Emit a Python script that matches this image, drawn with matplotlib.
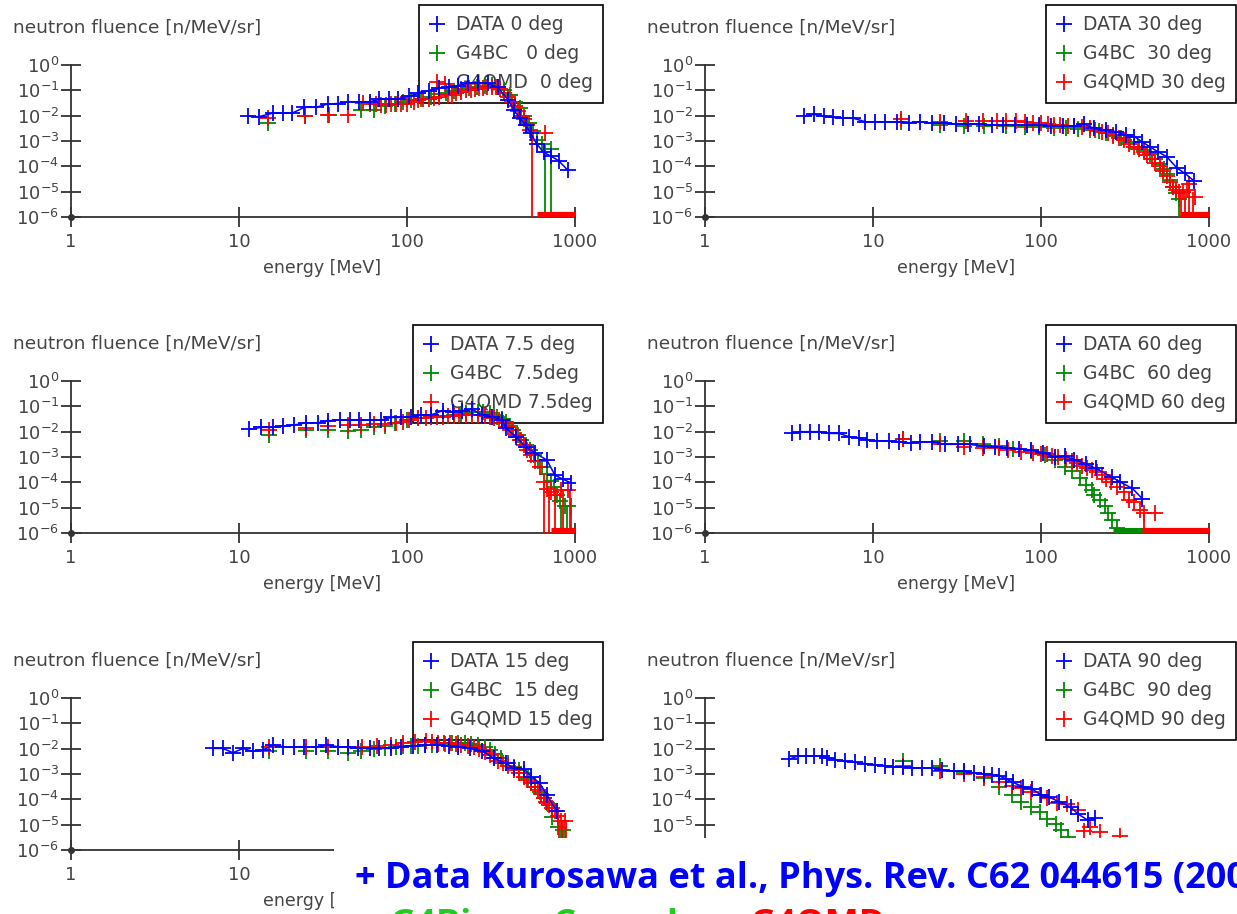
import numpy as np
import matplotlib
matplotlib.use("Agg")
import matplotlib.pyplot as plt
from matplotlib.lines import Line2D
from matplotlib.patches import Rectangle
from matplotlib.ticker import NullLocator

W, H = 1237, 914

# values: energy in MeV, fluence as log10 [n/MeV/sr]

# ---------- 0 deg ----------
e_data_0 = [11.3, 13.1, 15.9, 18.3, 20.7, 24.5, 28.7, 33.8, 38.7, 44.5, 52, 60, 68, 78, 89,
            103, 117, 135, 155, 178, 200, 230, 265, 303, 347, 400, 433, 470, 510, 545,
            590, 650, 720, 800, 905]
lg_data_0 = [-2.02, -2.04, -1.9, -1.9, -1.9, -1.67, -1.67, -1.54, -1.52, -1.45, -1.45, -1.45,
             -1.36, -1.33, -1.33, -1.23, -1.12, -1.01, -0.92, -0.86, -0.83, -0.72, -0.72,
             -0.72, -0.88, -1.38, -1.78, -2.1, -2.37, -2.7, -3.1, -3.45, -3.6, -3.78, -4.15]
e_bc_0 = [14.9, 24.8, 34.3, 53.6, 64, 74, 85, 95, 106, 121, 139, 155, 170, 190, 210, 235,
          260, 290, 320, 350, 380, 410, 440, 470, 500, 530, 560, 590, 640, 720]
lg_bc_0 = [-2.28, -2.02, -1.98, -1.78, -1.76, -1.62, -1.52, -1.45, -1.38, -1.33, -1.25,
           -1.15, -1.1, -1.02, -0.96, -0.9, -0.86, -0.82, -0.8, -0.85, -0.98, -1.2, -1.45,
           -1.7, -2.0, -2.3, -2.6, -2.96, -3.1, -3.3]
e_qmd_0 = [14.9, 24.8, 34, 44.5, 55, 60, 65, 70, 75, 80, 86, 92, 100, 110, 117, 125, 135,
           145, 155, 168, 175, 185, 195, 210, 225, 240, 255, 270, 285, 300, 320, 340, 360,
           380, 400, 420, 440, 460, 480, 500, 520, 540, 660]
lg_qmd_0 = [-2.1, -2.02, -1.98, -1.98, -1.49, -1.52, -1.52, -1.58, -1.58, -1.55, -1.55,
            -1.52, -1.52, -1.45, -1.38, -1.35, -1.33, -1.3, -1.25, -0.75, -1.2, -1.2, -1.12,
            -1.08, -1.0, -0.98, -0.94, -0.92, -0.9, -0.88, -0.88, -0.86, -0.95, -1.1, -1.25,
            -1.45, -1.62, -1.8, -2.0, -2.15, -2.35, -2.55, -2.7]
floor_bc_0, floor_qmd_0 = 680, 590
drop_e_bc_0, drop_lg_bc_0 = [660, 720], [-3.1, -3.3]
drop_e_qmd_0, drop_lg_qmd_0 = [555], [-2.7]

# ---------- 30 deg ----------
e_data_30 = [3.9, 4.45, 5.1, 5.8, 6.6, 7.6, 9.0, 10.3, 11.8, 13.9, 16.4, 19.0, 22.4, 26.4, 31,
             36.6, 43, 51, 59, 70, 82, 97, 114, 135, 158, 180, 207, 243, 278, 322, 360, 400,
             445, 495, 560, 645, 720, 815]
lg_data_30 = [-2.02, -1.95, -2.02, -2.07, -2.1, -2.1, -2.24, -2.24, -2.24, -2.24, -2.28,
              -2.24, -2.3, -2.3, -2.33, -2.33, -2.33, -2.37, -2.37, -2.37, -2.37, -2.37,
              -2.41, -2.41, -2.41, -2.33, -2.5, -2.56, -2.63, -2.77, -2.83, -3.03, -3.23,
              -3.42, -3.62, -4.07, -4.28, -4.58]
e_bc_30 = [14.6, 25, 35, 46, 62, 80, 97, 120, 140, 165, 195, 220, 243, 270, 300, 340, 380,
           410, 445, 480, 510, 540, 560, 585, 610, 635, 660]
lg_bc_30 = [-2.24, -2.37, -2.41, -2.41, -2.41, -2.43, -2.45, -2.48, -2.5, -2.53, -2.56,
            -2.62, -2.7, -2.8, -2.9, -3.05, -3.23, -3.35, -3.5, -3.7, -3.9, -4.1, -4.3,
            -4.55, -4.8, -5.05, -5.3]
e_qmd_30 = [14.6, 25, 36, 45, 55, 62, 71, 80, 90, 100, 110, 120, 130, 145, 158, 175, 195,
            210, 230, 250, 270, 290, 310, 335, 360, 385, 410, 430, 455, 480, 510, 535, 560,
            585, 610, 640, 665, 700, 740, 760, 820]
lg_qmd_30 = [-2.12, -2.24, -2.2, -2.2, -2.2, -2.2, -2.2, -2.25, -2.28, -2.3, -2.33, -2.35,
             -2.37, -2.39, -2.41, -2.45, -2.5, -2.56, -2.63, -2.7, -2.77, -2.87, -2.97, -3.1,
             -3.23, -3.33, -3.43, -3.55, -3.7, -3.85, -4.0, -4.2, -4.4, -4.6, -4.8, -4.95,
             -5.0, -5.0, -4.95, -4.7, -5.2]
floor_bc_30, floor_qmd_30 = 680, 680
drop_e_bc_30, drop_lg_bc_30 = [660], [-5.3]
drop_e_qmd_30, drop_lg_qmd_30 = [680, 720, 760, 800], [-5.0, -5.0, -4.7, -5.0]

# ---------- 7.5 deg ----------
e_data_75 = [11.5, 13.5, 15.9, 18.2, 21.2, 25, 29.5, 33.8, 39.7, 45.5, 52, 60, 70, 80, 92,
             106, 121, 139, 163, 187, 213, 245, 280, 320, 368, 388, 445, 510, 580, 680, 760,
             850, 945]
lg_data_75 = [-1.91, -1.83, -1.83, -1.78, -1.74, -1.65, -1.65, -1.57, -1.54, -1.54, -1.54,
              -1.54, -1.54, -1.44, -1.44, -1.41, -1.34, -1.34, -1.17, -1.21, -1.17, -1.12,
              -1.34, -1.41, -1.54, -1.86, -2.2, -2.6, -2.85, -3.12, -3.72, -3.88, -4.02]
e_bc_75 = [15, 25, 34, 44.5, 53, 64, 74, 85, 100, 117, 139, 163, 190, 210, 225, 245, 265,
           285, 310, 330, 345, 370, 390, 410, 430, 455, 480, 510, 540, 570, 600, 640, 680,
           715, 750, 780, 810, 870, 945]
lg_bc_75 = [-2.13, -1.94, -1.94, -1.97, -1.94, -1.8, -1.78, -1.67, -1.54, -1.47, -1.44,
            -1.38, -1.34, -1.3, -1.27, -1.24, -1.21, -1.22, -1.27, -1.33, -1.41, -1.5, -1.6,
            -1.78, -1.94, -2.14, -2.34, -2.54, -2.74, -2.94, -3.14, -3.4, -3.67, -3.95, -4.2,
            -4.5, -4.74, -4.93, -4.93]
e_qmd_75 = [15, 25, 34, 44.5, 53, 64, 74, 86, 95, 103, 117, 130, 139, 150, 163, 175, 190,
            205, 225, 245, 265, 290, 310, 330, 355, 375, 400, 420, 445, 470, 495, 520, 550,
            580, 615, 650, 680, 720, 760, 820, 910]
lg_qmd_75 = [-1.94, -1.87, -1.78, -1.74, -1.74, -1.7, -1.7, -1.65, -1.6, -1.54, -1.47,
             -1.45, -1.44, -1.42, -1.41, -1.4, -1.38, -1.36, -1.34, -1.34, -1.34, -1.37,
             -1.41, -1.46, -1.54, -1.65, -1.8, -1.95, -2.14, -2.34, -2.54, -2.74, -2.94,
             -3.15, -3.4, -4.0, -4.27, -4.4, -4.5, -4.3, -4.3]
floor_bc_75, floor_qmd_75 = 800, 720
drop_e_bc_75, drop_lg_bc_75 = [830, 900, 945], [-4.9, -4.9, -4.9]
drop_e_qmd_75, drop_lg_qmd_75 = [650, 700, 760, 850, 930], [-4.0, -4.3, -4.5, -4.3, -4.3]

# ---------- 60 deg ----------
e_data_60 = [3.3, 3.68, 4.2, 4.8, 5.5, 6.3, 7.2, 8.2, 9.2, 10.5, 12.4, 14.3, 16.8, 19.0,
             22.4, 27, 32, 37.6, 45.6, 53, 63, 74, 87, 103, 121, 139, 158, 186, 212, 265,
             295, 350, 400]
lg_data_60 = [-2.07, -2.0, -2.0, -2.0, -2.07, -2.07, -2.2, -2.24, -2.33, -2.36, -2.36, -2.4,
              -2.45, -2.4, -2.4, -2.5, -2.5, -2.5, -2.58, -2.6, -2.63, -2.67, -2.73, -2.83,
              -3.0, -2.97, -3.1, -3.28, -3.45, -3.8, -3.98, -4.24, -4.64]
e_bc_60 = [15, 25, 35, 45, 56, 68, 87, 106, 121, 139, 152, 170, 186, 200, 208, 225, 240,
           250, 265, 285]
lg_bc_60 = [-2.3, -2.36, -2.36, -2.5, -2.58, -2.67, -2.75, -2.93, -3.1, -3.38, -3.57, -3.84,
            -4.1, -4.3, -4.5, -4.7, -4.95, -5.2, -5.48, -5.8]
e_qmd_60 = [15, 25, 35, 45, 56, 64, 76, 90, 100, 108, 117, 127, 140, 152, 163, 175, 188,
            200, 215, 230, 245, 260, 285, 310, 335, 360, 390, 410, 480]
lg_qmd_60 = [-2.3, -2.5, -2.6, -2.64, -2.64, -2.73, -2.8, -2.84, -2.87, -2.9, -2.95, -3.0,
             -3.08, -3.16, -3.25, -3.34, -3.42, -3.5, -3.6, -3.7, -3.85, -4.0, -4.2, -4.4,
             -4.7, -4.77, -5.1, -5.2, -5.2]
floor_bc_60, floor_qmd_60 = 270, 400
drop_e_bc_60, drop_lg_bc_60 = [285], [-5.8]
drop_e_qmd_60, drop_lg_qmd_60 = [410], [-5.2]

# ---------- 15 deg ----------
e_data_15 = [7.0, 8.0, 9.2, 10.6, 12.1, 13.9, 15.9, 18.2, 21.2, 24.5, 28.7, 33, 38.7, 44.5,
             51, 60, 68, 80, 92, 108, 128, 150, 178, 200, 237, 280, 330, 388, 433, 495, 550,
             615, 680, 780]
lg_data_15 = [-1.99, -1.99, -2.16, -1.99, -2.11, -2.05, -1.86, -1.92, -1.95, -1.92, -1.95,
              -1.86, -1.92, -1.95, -1.99, -1.99, -1.99, -1.99, -1.92, -1.9, -1.86, -1.86,
              -1.9, -1.92, -1.99, -2.08, -2.38, -2.58, -2.77, -2.8, -3.1, -3.35, -3.82, -4.47]
e_bc_15 = [15, 25, 34, 44.5, 53, 64, 74, 86, 95, 105, 117, 128, 140, 153, 168, 185, 200,
           220, 240, 265, 290, 310, 335, 365, 400, 433, 465, 495, 525, 550, 580, 615, 650,
           680, 730, 790, 850]
lg_bc_15 = [-2.1, -2.08, -2.11, -2.16, -2.08, -2.03, -1.99, -1.92, -1.9, -1.9, -1.88, -1.86,
            -1.84, -1.82, -1.8, -1.79, -1.79, -1.79, -1.82, -1.86, -1.95, -2.05, -2.2, -2.38,
            -2.55, -2.71, -2.85, -2.97, -3.15, -3.3, -3.5, -3.7, -3.95, -4.16, -4.7, -5.1,
            -5.2]
e_qmd_15 = [15, 25, 34, 44.5, 54, 66, 80, 95, 112, 130, 140, 153, 165, 180, 195, 210, 230,
            250, 270, 290, 310, 330, 350, 375, 400, 433, 465, 495, 520, 550, 575, 600, 625,
            650, 675, 700, 730, 760, 790, 820, 870]
lg_qmd_15 = [-1.95, -1.95, -1.95, -1.92, -1.92, -1.9, -1.86, -1.79, -1.73, -1.69, -1.72,
             -1.77, -1.78, -1.79, -1.82, -1.86, -1.9, -1.92, -2.0, -2.12, -2.25, -2.38,
             -2.48, -2.58, -2.7, -2.84, -2.97, -3.1, -3.23, -3.37, -3.5, -3.63, -3.8, -3.96,
             -4.1, -4.22, -4.35, -4.48, -4.65, -4.87, -4.87]
floor_bc_15, floor_qmd_15 = 900, 900
drop_e_bc_15, drop_lg_bc_15 = [820, 870], [-5.2, -5.2]
drop_e_qmd_15, drop_lg_qmd_15 = [800, 840, 880], [-4.9, -4.9, -4.9]

# ---------- 90 deg ----------
e_data_90 = [3.16, 3.57, 3.98, 4.45, 4.97, 5.3, 5.9, 6.8, 7.8, 8.95, 10.3, 11.8, 13.2, 15.1,
             17.1, 19.6, 22.4, 25.7, 30.3, 34.8, 40, 45.7, 51, 56, 62, 68, 78, 89, 100, 111,
             128, 150, 166, 190, 211]
lg_data_90 = [-2.42, -2.29, -2.29, -2.29, -2.29, -2.37, -2.43, -2.5, -2.54, -2.59, -2.63,
              -2.67, -2.72, -2.72, -2.76, -2.76, -2.76, -2.83, -2.89, -2.89, -2.96, -2.99,
              -3.03, -3.06, -3.2, -3.33, -3.5, -3.6, -3.83, -3.9, -4.1, -4.3, -4.58, -4.82,
              -4.75]
e_bc_90 = [15, 25, 35, 45.7, 56, 67, 76, 87, 98, 109, 122, 131, 145]
lg_bc_90 = [-2.49, -2.7, -2.93, -3.16, -3.5, -3.83, -4.1, -4.3, -4.5, -4.76, -4.98, -5.2,
            -5.5]
e_qmd_90 = [15, 25, 35, 45.7, 56, 67, 76, 87, 98, 109, 125, 143, 166, 180, 195, 225, 295]
lg_qmd_90 = [-2.7, -2.9, -2.99, -3.1, -3.3, -3.46, -3.56, -3.7, -3.83, -3.96, -4.16, -4.2,
             -4.43, -5.24, -5.1, -5.3, -5.43]
floor_bc_90, floor_qmd_90 = None, None
drop_e_bc_90, drop_lg_bc_90 = [], []
drop_e_qmd_90, drop_lg_qmd_90 = [], []

labels_0 = ["DATA 0 deg", "G4BC   0 deg", "G4QMD  0 deg"]
labels_30 = ["DATA 30 deg", "G4BC  30 deg", "G4QMD 30 deg"]
labels_75 = ["DATA 7.5 deg", "G4BC  7.5deg", "G4QMD 7.5deg"]
labels_60 = ["DATA 60 deg", "G4BC  60 deg", "G4QMD 60 deg"]
labels_15 = ["DATA 15 deg", "G4BC  15 deg", "G4QMD 15 deg"]
labels_90 = ["DATA 90 deg", "G4BC  90 deg", "G4QMD 90 deg"]

x_ticks = [1, 10, 100, 1000]
x_ticklabels = ["1", "10", "100", "1000"]

BLUE, GREEN, RED = "#0000ff", "#008a00", "#ff0000"
AXC, TXC = "#333333", "#444444"

plt.rcParams["font.family"] = ["DejaVu Sans"]
fig = plt.figure(figsize=(W / 100, H / 100), dpi=100)

# pixel geometry: columns (axis left, legend right), rows (axis top, legend top)
cols = [(71, 603), (705, 1236)]
rows = [(65, 5), (381, 325), (698, 642)]

panels = [
    (0, 0, e_data_0, lg_data_0, e_bc_0, lg_bc_0, e_qmd_0, lg_qmd_0, labels_0,
     floor_bc_0, floor_qmd_0, drop_e_bc_0, drop_lg_bc_0, drop_e_qmd_0, drop_lg_qmd_0),
    (1, 0, e_data_30, lg_data_30, e_bc_30, lg_bc_30, e_qmd_30, lg_qmd_30, labels_30,
     floor_bc_30, floor_qmd_30, drop_e_bc_30, drop_lg_bc_30, drop_e_qmd_30, drop_lg_qmd_30),
    (0, 1, e_data_75, lg_data_75, e_bc_75, lg_bc_75, e_qmd_75, lg_qmd_75, labels_75,
     floor_bc_75, floor_qmd_75, drop_e_bc_75, drop_lg_bc_75, drop_e_qmd_75, drop_lg_qmd_75),
    (1, 1, e_data_60, lg_data_60, e_bc_60, lg_bc_60, e_qmd_60, lg_qmd_60, labels_60,
     floor_bc_60, floor_qmd_60, drop_e_bc_60, drop_lg_bc_60, drop_e_qmd_60, drop_lg_qmd_60),
    (0, 2, e_data_15, lg_data_15, e_bc_15, lg_bc_15, e_qmd_15, lg_qmd_15, labels_15,
     floor_bc_15, floor_qmd_15, drop_e_bc_15, drop_lg_bc_15, drop_e_qmd_15, drop_lg_qmd_15),
    (1, 2, e_data_90, lg_data_90, e_bc_90, lg_bc_90, e_qmd_90, lg_qmd_90, labels_90,
     floor_bc_90, floor_qmd_90, drop_e_bc_90, drop_lg_bc_90, drop_e_qmd_90, drop_lg_qmd_90),
]

MS, MEW = 11, 1.3

for (c, r, ed, ld, eb, lb, eq, lq, labs, fb, fq, deb, dlb, deq, dlq) in panels:
    left, leg_right = cols[c]
    top, leg_top = rows[r]
    ax = fig.add_axes([left / W, 1 - (top + 152) / H, 504 / W, 152 / H])
    ax.set_xscale("log")
    ax.set_yscale("log")

    # simulations first, data on top
    for e, lg, fl, de, dl, col in [(eb, lb, fb, deb, dlb, GREEN), (eq, lq, fq, deq, dlq, RED)]:
        ax.plot(e, 10 ** np.array(lg), ls="none", marker="+", ms=MS, mew=MEW, color=col, zorder=3)
        if fl is not None:
            ax.plot([fl, 1000], [1e-6, 1e-6], color=col, lw=8, solid_capstyle="butt", zorder=3)
        if de:
            ax.vlines(de, 1e-6, 10 ** np.array(dl), color=col, lw=1.3, zorder=3)
    ax.plot(ed, 10 ** np.array(ld), ls="-", lw=1.1, marker="+", ms=MS, mew=MEW, color=BLUE, zorder=4)

    ax.set_xlim(1, 1000)
    ax.set_ylim(1e-6, 1)
    ax.set_xticks(x_ticks)
    # the lower row's labels right of x=334 px lie under the white note box
    if r == 2:
        ax.set_xticklabels([t if (c == 0 and v < 100) else "" for v, t in zip(x_ticks, x_ticklabels)])
    else:
        ax.set_xticklabels(x_ticklabels)
    ax.set_yticks([10.0 ** k for k in range(-6, 1)])
    ax.set_yticklabels([r"$10^{%d}$" % k for k in range(-6, 1)])
    ax.xaxis.set_minor_locator(NullLocator())
    ax.yaxis.set_minor_locator(NullLocator())
    ax.tick_params(direction="inout", length=15, width=1.3, color=AXC,
                   labelcolor=TXC, labelsize=13)
    ax.tick_params(axis="x", pad=4)
    ax.tick_params(axis="y", pad=1)
    for s in ["top", "right"]:
        ax.spines[s].set_visible(False)
    for s in ["left", "bottom"]:
        ax.spines[s].set_color(AXC)
        ax.spines[s].set_linewidth(1.3)
    ax.patch.set_alpha(0)
    ax.plot([1], [1e-6], "o", color=AXC, ms=4, clip_on=False, zorder=5)

    handles = [Line2D([], [], ls="none", marker="+", ms=MS, mew=MEW, color=col)
               for col in (BLUE, GREEN, RED)]
    leg = ax.legend(handles, labs, loc="upper right",
                    bbox_to_anchor=(leg_right / W, 1 - leg_top / H),
                    bbox_transform=fig.transFigure, fancybox=False, framealpha=1,
                    edgecolor="black", fontsize=13.5, handlelength=0.8, handletextpad=0.6,
                    borderpad=0.55, labelspacing=0.53, borderaxespad=0)
    leg.get_frame().set_linewidth(1.2)
    leg.set_zorder(1)
    for t in leg.get_texts():
        t.set_color(TXC)

    fig.text((left - 58) / W, 1 - (top - 37) / H, "neutron fluence [n/MeV/sr]",
             ha="left", va="center", fontsize=13.3, color=TXC)
    if not (r == 2 and c == 1):
        fig.text((left + 251) / W, 1 - (top + 203) / H, "energy [MeV]",
                 ha="center", va="center", fontsize=12.5, color=TXC)

# white box with the reference note covering the lower right corner
NOTE_FONT = dict(fontsize=26.0, fontweight="bold", family="Open Sans",
                 va="baseline", ha="left", zorder=21)
fig.add_artist(Rectangle((334 / W, 0), 1 - 334 / W, (H - 838) / H,
                         transform=fig.transFigure, fc="white", ec="none", zorder=20))
fig.text(355 / W, 1 - 888 / H, "+ Data Kurosawa et al., Phys. Rev. C62 044615 (2000)",
         color="#0000ff", **NOTE_FONT)
fig.text(390 / W, 1 - 935 / H, "G4Binary", color="#22cc22", **NOTE_FONT)
fig.text(553 / W, 1 - 935 / H, "Cascade,", color="#22cc22", **NOTE_FONT)
fig.text(750 / W, 1 - 935 / H, "G4QMD", color="#ff0000", **NOTE_FONT)

fig.savefig("out.png", dpi=100)
